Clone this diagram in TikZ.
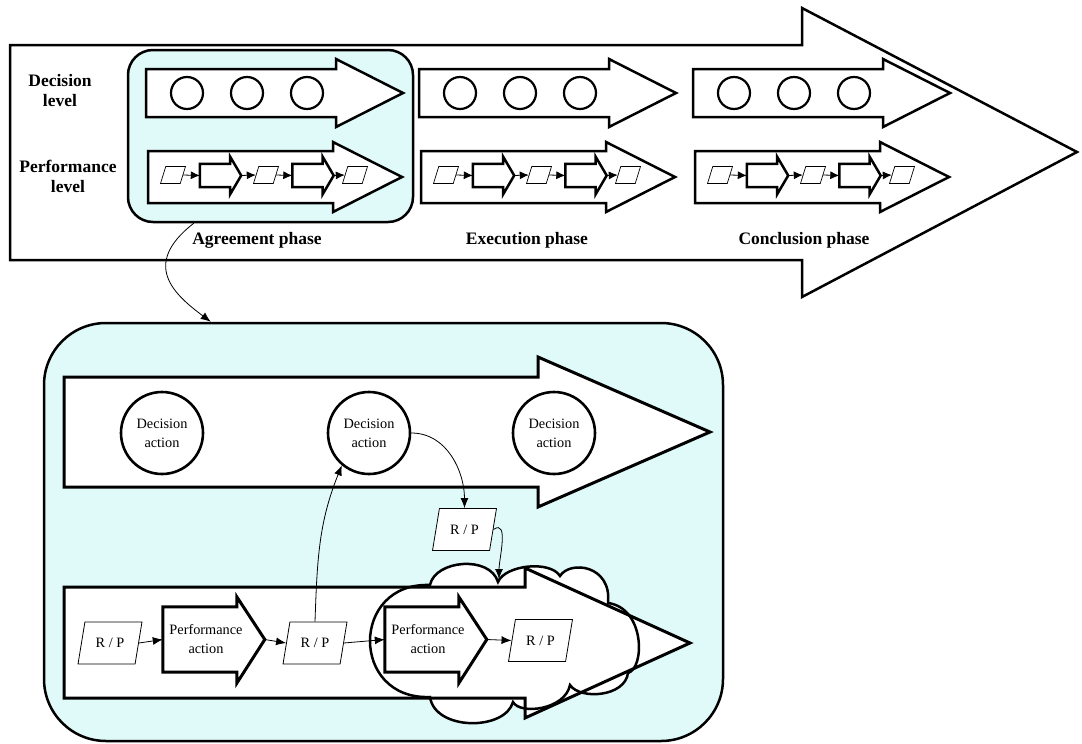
\documentclass[tikz,border=0pt]{standalone}
\usepackage{fontspec}
\setmainfont{Liberation Serif}
\usetikzlibrary{shapes.geometric,arrows.meta}
\definecolor{panel}{RGB}{224,249,249}
\tikzset{
  outline/.style={line width=2.5pt, draw=black, fill=white, line join=miter},
  lvl/.style={font=\fontsize{17.5}{20}\selectfont\bfseries, align=center, inner sep=0pt},
  phase/.style={font=\fontsize{17.5}{20}\selectfont\bfseries, inner sep=0pt},
  small/.style={font=\fontsize{14.3}{19}\selectfont, align=center},
  minicirc/.style={circle, draw, line width=2.2pt, minimum size=32pt, inner sep=0pt},
  actcirc/.style={circle, draw, line width=2.6pt, fill=white, minimum size=82pt, inner sep=0pt, small},
  minipara/.style={trapezium, trapezium left angle=70, trapezium right angle=110,
    trapezium stretches=true, draw, line width=0.7pt, fill=white,
    minimum width=25pt, minimum height=17pt, inner sep=1pt},
  rp/.style={minipara, minimum width=64pt, minimum height=42pt, line width=0.8pt, small},
  minishaft/.style={minimum width=30pt, minimum height=23pt, inner sep=0pt},
  actshaft/.style={minimum width=86pt, minimum height=65pt, inner sep=0pt, small},
  blockline/.style={line width=2.5pt, line join=miter},
  miniflow/.style={line width=0.8pt, -{Latex[length=9pt,width=8pt]}},
  flow/.style={line width=0.8pt, -{Latex[length=10pt,width=8pt]}},
  panelbox/.style={draw, line width=2.5pt, fill=panel, inner sep=0pt},
}

\begin{document}
\begin{tikzpicture}[x=1pt,y=1pt]
\useasboundingbox (0,0) rectangle (1082,-744);

% ---------- overall contract arrow ----------
\draw[outline] (10,-45) -- (802,-45) -- (802,-8) -- (1077,-152) -- (802,-297)
  -- (802,-260) -- (10,-260) -- cycle;

\node[panelbox, rounded corners=25pt, minimum width=285pt, minimum height=172pt]
  (agree) at (270.5,-136) {};

\node[lvl] (declvl) at (60,-91) {Decision\\level};
\node[lvl] (perflvl) at (68,-176) {Performance\\level};

% one column per phase
\foreach \s/\n in {0/1,273/2,547/3} {
  \begin{scope}[shift={(\s,0)}]
    % decision level
    \draw[outline] (146,-69) -- (336,-69) -- (336,-59) -- (403,-93) -- (336,-127)
      -- (336,-117) -- (146,-117) -- cycle;
    \foreach \c/\cx in {a/187,b/247,c/307}
      \node[minicirc] (dc\n-\c) at (\cx,-93) {};
    % performance level
    \draw[outline] (148,-151) -- (333,-151) -- (333,-142) -- (402,-177) -- (333,-212)
      -- (333,-203) -- (148,-203) -- cycle;
    \node[minipara] (mp\n-a) at (173,-175) {};
    \node[minipara] (mp\n-b) at (266,-175) {};
    \node[minipara] (mp\n-c) at (355,-175) {};
    \node[minishaft] (mb\n-1) at (215,-175.5) {};
    \node[minishaft] (mb\n-2) at (307.5,-175.5) {};
    \coordinate (mt\n-1) at ([xshift=11pt]mb\n-1.east);
    \coordinate (mt\n-2) at ([xshift=11pt]mb\n-2.east);
    \foreach \k in {1,2}
      \draw[blockline] (mb\n-\k.south west) -- (mb\n-\k.north west) -- (mb\n-\k.north east)
        -- ([yshift=7pt]mb\n-\k.north east) -- (mt\n-\k)
        -- ([yshift=-7pt]mb\n-\k.south east) -- (mb\n-\k.south east) -- cycle;
    \draw[miniflow] (mp\n-a.east) -- (mb\n-1.west);
    \draw[miniflow] (mt\n-1) -- (mp\n-b.west);
    \draw[miniflow] (mp\n-b.east) -- (mb\n-2.west);
    \draw[miniflow] (mt\n-2) -- (mp\n-c.west);
  \end{scope}
}

\node[phase] (ph1) at (257,-240) {Agreement phase};
\node[phase] (ph2) at (527,-240) {Execution phase};
\node[phase] (ph3) at (804,-240) {Conclusion phase};

% ---------- detail of the agreement phase ----------
\node[panelbox, rounded corners=62pt, minimum width=679pt, minimum height=418pt]
  (detail) at (383.5,-532) {};

\draw[flow] ([xshift=67pt]agree.south west) .. controls (140,-265) and (175,-295)
  .. ([xshift=168pt]detail.north west);

% decision level
\draw[outline, line width=3pt] (64,-377) -- (538,-377) -- (538,-357) -- (710,-432)
  -- (538,-507) -- (538,-487) -- (64,-487) -- cycle;
\node[actcirc] (da1) at (162,-433) {Decision\\action};
\node[actcirc] (da2) at (369,-433) {Decision\\action};
\node[actcirc] (da3) at (554,-433) {Decision\\action};

% performance level with the highlighted cloud
\path[fill=white] (64,-587) -- (525,-587) -- (525,-568) -- (690,-643) -- (525,-718)
  -- (525,-698) -- (64,-698) -- cycle;
\draw[line width=2.5pt, fill=white] (430,-585)
  .. controls (435,-560) and (490,-555) .. (498,-582)
  .. controls (505,-565) and (550,-560) .. (560,-576)
  .. controls (570,-560) and (612,-565) .. (608,-603)
  .. controls (645,-608) and (645,-668) .. (628,-673)
  .. controls (625,-697) and (580,-700) .. (570,-685)
  .. controls (565,-710) and (520,-715) .. (513,-702)
  .. controls (505,-731) and (435,-731) .. (430,-697)
  .. controls (350,-700) and (350,-582) .. (430,-585) -- cycle;
\coordinate (cloudnotch) at (499,-579);
\draw[line width=3pt, line join=miter] (64,-587) -- (525,-587) -- (525,-568) -- (690,-643)
  -- (525,-718) -- (525,-698) -- (64,-698) -- cycle;

\node[rp] (rp1) at (110,-643) {R / P};
\node[rp] (rp2) at (315,-643) {R / P};
\node[rp] (rp3) at (540.5,-640.5) {R / P};
\node[rp] (rpt) at (464.5,-529.5) {R / P};

\node[actshaft] (pa1) at (206,-639.5) {Performance\\action};
\node[actshaft] (pa2) at (428,-639.5) {Performance\\action};
\coordinate (pa1tip) at ([xshift=102pt]pa1.west);
\coordinate (pa2tip) at ([xshift=102pt]pa2.west);
\foreach \k in {1,2}
  \draw[blockline, line width=3pt] (pa\k.south west) -- (pa\k.north west)
    -- ([xshift=74pt]pa\k.north west) -- ([xshift=74pt,yshift=10pt]pa\k.north west)
    -- (pa\k tip) -- ([xshift=74pt,yshift=-11pt]pa\k.south west)
    -- ([xshift=74pt]pa\k.south west) -- cycle;

\draw[flow] (rp1.east) -- (pa1.west);
\draw[flow] (pa1tip) -- (rp2.west);
\draw[flow] (rp2.east) -- (pa2.west);
\draw[flow] (pa2tip) -- (rp3.west);
\draw[flow] (rp2.north) to[out=88,in=-112] (da2.-130);
\draw[flow] (da2.east) to[out=0,in=90] (rpt.north);
\draw[flow] (rpt.east) to[out=35,in=90] (cloudnotch);
\end{tikzpicture}
\end{document}
